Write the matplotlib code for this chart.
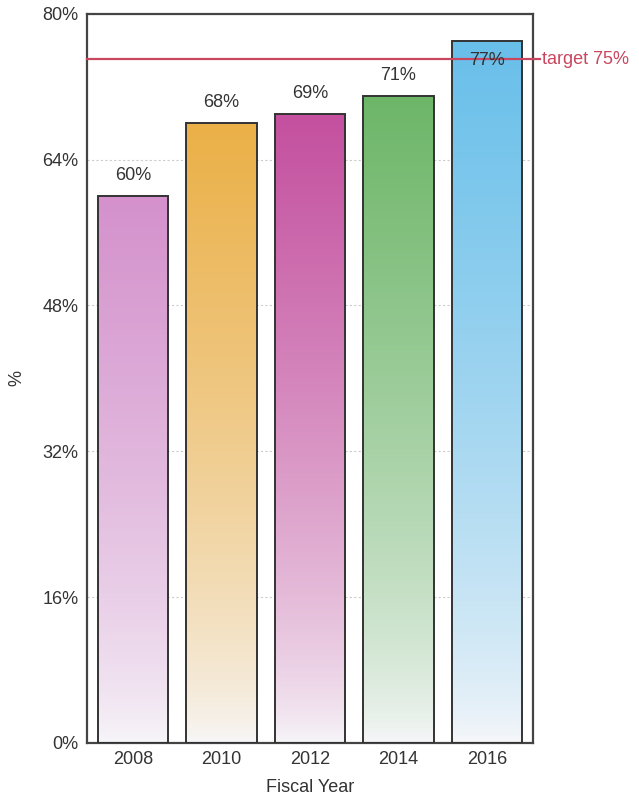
import numpy as np
import matplotlib
matplotlib.use("Agg")
import matplotlib.pyplot as plt
from matplotlib.colors import to_rgb

# --- data ---
years = ["2008", "2010", "2012", "2014", "2016"]
values = [60, 68, 69, 71, 77]
bar_colors = ["#d491cc", "#ebb047", "#c4509f", "#6db668", "#68bfea"]
target = 75
y_ticks = [0, 16, 32, 48, 64, 80]

plt.rcParams["font.family"] = ["Liberation Sans", "DejaVu Sans"]
FS = 13

fig = plt.figure(figsize=(6.39, 8.09), dpi=100)
ax = fig.add_axes([0.136, 0.0816, 0.698, 0.9014])

x = np.arange(len(years))
width = 0.8
bars = ax.bar(x, values, width=width, facecolor="none",
              edgecolor="#333333", linewidth=1.4, zorder=3)

# vertical fade: full colour at the top, almost white at the base
grad = np.linspace(0, 1, 256).reshape(-1, 1)
for rect, col in zip(bars, bar_colors):
    rgb = np.array(to_rgb(col))
    t = grad ** 0.7
    img = (1 - t) * np.array([0.97, 0.97, 0.98]) + t * rgb
    img = img.reshape(256, 1, 3)
    x0, w, h = rect.get_x(), rect.get_width(), rect.get_height()
    im = ax.imshow(img, extent=[x0, x0 + w, 0, h], origin="lower",
                   aspect="auto", zorder=2)
    im.set_clip_path(rect)

# value labels; the tallest one would hit the frame, so it goes inside
for xi, v in zip(x, values):
    if v + 4 > 80:
        ax.text(xi, v - 1.2, f"{v}%", ha="center", va="top",
                fontsize=FS, color="#333333", zorder=5)
    else:
        ax.text(xi, v + 1.3, f"{v}%", ha="center", va="bottom",
                fontsize=FS, color="#333333", zorder=5)

# target line runs a little past the frame
ax.plot([-0.52, 4.6], [target, target], color="#c8465e", lw=1.6,
        clip_on=False, zorder=4)
ax.text(4.62, target, f"target {target}%", color="#c8465e",
        fontsize=FS, va="center", ha="left", clip_on=False)

ax.set_xlim(-0.52, 4.52)
ax.set_ylim(0, 80)
ax.set_xticks(x)
ax.set_xticklabels(years)
ax.set_yticks(y_ticks)
ax.set_yticklabels([f"{t}%" for t in y_ticks])
ax.tick_params(length=0, labelsize=FS, colors="#333333", pad=6)
ax.yaxis.grid(True, linestyle=(0, (2, 2)), color="#cccccc", lw=0.8)
ax.set_axisbelow(True)
for s in ax.spines.values():
    s.set_color("#444444")
    s.set_linewidth(1.6)

ax.set_xlabel("Fiscal Year", fontsize=FS, color="#333333", labelpad=8)
ax.set_ylabel("%", fontsize=FS, color="#333333", labelpad=12)

fig.savefig("out.png", dpi=100)
